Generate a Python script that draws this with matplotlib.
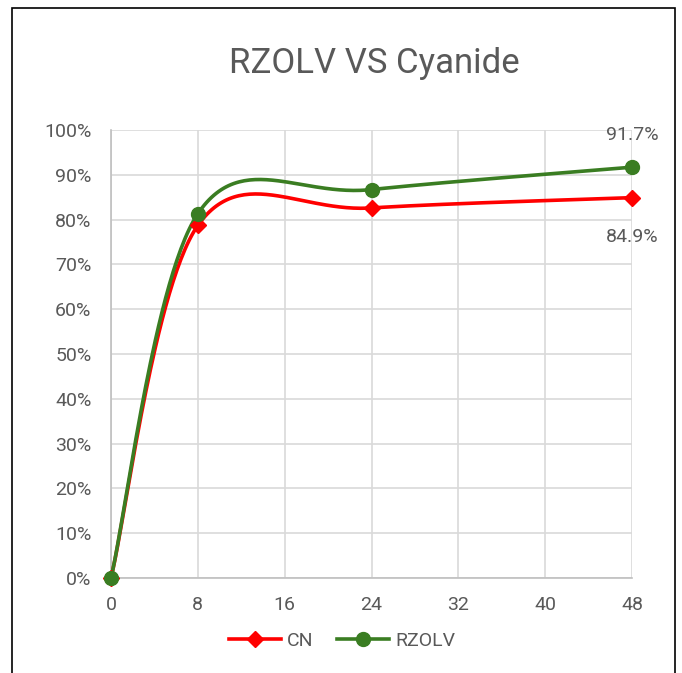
import numpy as np
import matplotlib
matplotlib.use("Agg")
import matplotlib.pyplot as plt
from matplotlib.patches import Rectangle

plt.rcParams["font.family"] = ["Roboto", "DejaVu Sans"]

hours = [0, 8, 24, 48]
cn = [0.0, 0.787, 0.826, 0.849]
rzolv = [0.0, 0.813, 0.867, 0.917]
x_ticks = [0, 8, 16, 24, 32, 40, 48]

TEXT = "#595959"
GRID = "#D9D9D9"
RED = "#FF0000"
GREEN = "#3A7D22"


def smooth(xs, ys, sx, sy, n=60):
    # excel-like smoothed line: cubic bezier through points, computed in pixel space
    px = np.array(xs, float) * sx
    py = np.array(ys, float) * sy
    outx, outy = [], []
    k = len(px)
    for i in range(k - 1):
        p0 = np.array([px[max(i - 1, 0)], py[max(i - 1, 0)]])
        p1 = np.array([px[i], py[i]])
        p2 = np.array([px[i + 1], py[i + 1]])
        p3 = np.array([px[min(i + 2, k - 1)], py[min(i + 2, k - 1)]])
        c1 = p1 + (p2 - p0) / 6
        c2 = p2 - (p3 - p1) / 6
        t = np.linspace(0, 1, n)[:, None]
        b = (1 - t) ** 3 * p1 + 3 * (1 - t) ** 2 * t * c1 + 3 * (1 - t) * t ** 2 * c2 + t ** 3 * p2
        outx.extend(b[:, 0] / sx)
        outy.extend(b[:, 1] / sy)
    return np.array(outx), np.array(outy)


fig = plt.figure(figsize=(6.82, 6.73), dpi=100)
ax = fig.add_axes([111 / 682, 1 - 578 / 673, 521 / 682, 448 / 673])

# chart border
fig.patches.append(Rectangle((12 / 682, -0.01), 663 / 682, 1 - 8 / 673 + 0.01,
                             transform=fig.transFigure, fill=False,
                             edgecolor="black", linewidth=1.2))

sx = 521 / 48
sy = 448 / 1.0
for ys, col, mk, ms, lab in [(cn, RED, "D", 8, "CN"), (rzolv, GREEN, "o", 10, "RZOLV")]:
    lx, ly = smooth(hours, ys, sx, sy)
    ax.plot(lx, ly, color=col, lw=2.6, clip_on=False, zorder=3)
    ax.plot(hours, ys, linestyle="none", marker=mk, color=col, ms=ms, clip_on=False, zorder=4)
    ax.plot([], [], color=col, lw=2.6, marker=mk, ms=ms, label=lab)

ax.annotate(f"{rzolv[-1]*100:.1f}%", (hours[-1], rzolv[-1]), xytext=(0, 17),
            textcoords="offset points", ha="center", va="bottom", fontsize=14, color=TEXT)
ax.annotate(f"{cn[-1]*100:.1f}%", (hours[-1], cn[-1]), xytext=(0, -22),
            textcoords="offset points", ha="center", va="top", fontsize=14, color=TEXT)

ax.set_xlim(0, 48)
ax.set_ylim(0, 1.0)
ax.set_xticks(x_ticks)
ax.set_yticks(np.arange(0, 1.01, 0.1))
ax.set_yticklabels([f"{int(round(v*100))}%" for v in np.arange(0, 1.01, 0.1)])
ax.tick_params(length=0, labelsize=14, labelcolor=TEXT)
ax.tick_params(axis="x", pad=13)
ax.tick_params(axis="y", pad=14)
ax.grid(True, color=GRID, lw=1.2)
ax.set_axisbelow(True)
for s in ["top", "right"]:
    ax.spines[s].set_visible(False)
ax.spines["left"].set_color("#BFBFBF")
ax.spines["bottom"].set_color("#BFBFBF")
ax.spines["left"].set_linewidth(1.2)
ax.spines["bottom"].set_linewidth(1.2)

fig.text(374 / 682, 1 - 63 / 673, "RZOLV VS Cyanide", ha="center", va="center",
         fontsize=25, color=TEXT)

fig.legend(loc="center", bbox_to_anchor=(342 / 682, 1 - 641 / 673), ncol=2, frameon=False,
           fontsize=14, labelcolor=TEXT, handlelength=2.7, columnspacing=1.2, handletextpad=0.3)

fig.savefig("out.png", dpi=100)
